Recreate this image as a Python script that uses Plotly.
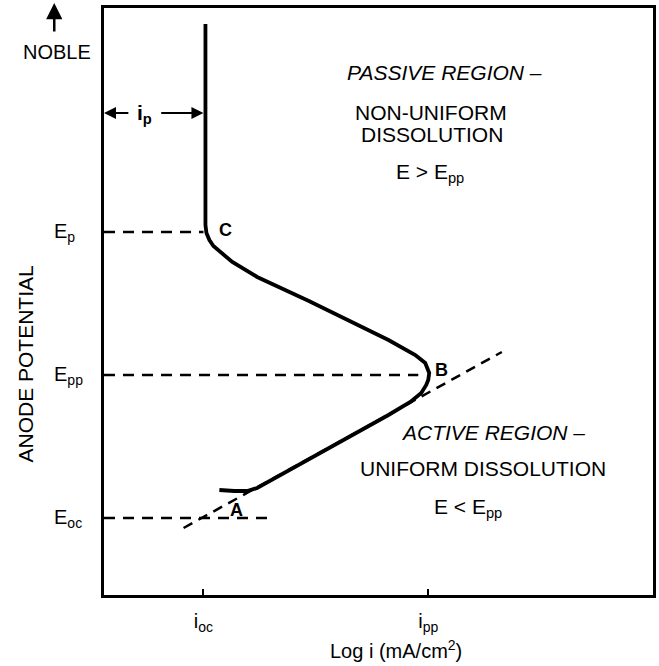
import plotly.graph_objects as go

# Schematic units (x: log i scale, y: potential scale), arbitrary
X_RANGE = [0, 552]
Y_RANGE = [0, 587]

# Polarization curve (anodic)
curve_x = [102, 102, 103, 106, 110, 116, 129, 154, 206, 286, 313, 323, 327, 326, 324, 319,
           308, 286, 219, 154, 144, 131, 116]
curve_y = [571, 370, 362, 355, 349, 344, 333, 318, 294, 255, 240, 232, 222, 215, 210, 202,
           193, 180, 143, 107, 104, 104, 105]

# Characteristic potentials / currents
E_p, E_pp, E_oc = 363, 220, 77
i_oc, i_pp = 100, 326
tick_vals_x = [i_oc, i_pp]
tick_text_x = ["i<sub>oc</sub>", "i<sub>pp</sub>"]
y_labels = ["E<sub>p</sub>", "E<sub>pp</sub>", "E<sub>oc</sub>"]
y_label_vals = [E_p, E_pp, E_oc]

# Dashed reference lines: (x0, x1, y)
dash_h = [(0, 100, E_p), (0, 316, E_pp), (0, 169, E_oc)]
# Tafel extrapolation
tafel_x = [80, 400]
tafel_y = [67, 243]

FONT = "Liberation Sans, Arial, Helvetica, sans-serif"

fig = go.Figure()
for x0, x1, y in dash_h:
    fig.add_trace(go.Scatter(x=[x0, x1], y=[y, y], mode="lines",
                             line=dict(color="black", width=2.5, dash="11px,8px"), hoverinfo="skip"))
fig.add_trace(go.Scatter(x=tafel_x, y=tafel_y, mode="lines",
                         line=dict(color="black", width=2.5, dash="10px,7px"), hoverinfo="skip"))
fig.add_trace(go.Scatter(x=curve_x, y=curve_y, mode="lines",
                         line=dict(color="black", width=3.8), hoverinfo="skip"))

ann = []
# point labels
for txt, x, y in [("A", 133, 85), ("B", 339, 225), ("C", 122, 365)]:
    ann.append(dict(x=x, y=y, text=f"<b>{txt}</b>", showarrow=False,
                    font=dict(size=18, family=FONT, color="black")))
# region texts
region = [("<i>PASSIVE REGION –</i>", 342, 523), ("NON-UNIFORM", 329, 483),
          ("DISSOLUTION", 330, 461), ("E > E<sub>pp</sub>", 328, 422),
          ("<i>ACTIVE REGION –</i>", 391, 163), ("UNIFORM DISSOLUTION", 381, 127),
          ("E < E<sub>pp</sub>", 366, 87)]
for txt, x, y in region:
    ann.append(dict(x=x, y=y, text=txt, showarrow=False,
                    font=dict(size=21, family=FONT, color="black")))
# i_p dimension arrows
ann.append(dict(x=0, y=482, ax=26, ay=482, axref="x", ayref="y", text="", showarrow=True,
                arrowhead=2, arrowsize=1.2, arrowwidth=2, arrowcolor="black"))
ann.append(dict(x=100, y=482, ax=56, ay=482, axref="x", ayref="y", text="", showarrow=True,
                arrowhead=2, arrowsize=1.2, arrowwidth=2, arrowcolor="black"))
ann.append(dict(x=41, y=481, text="<b>i<sub>p</sub></b>", showarrow=False,
                font=dict(size=21, family=FONT, color="black")))
# y labels
for txt, y in zip(y_labels, y_label_vals):
    ann.append(dict(xref="paper", x=-0.0942, y=y, xanchor="left", yanchor="middle",
                    text=txt, showarrow=False, font=dict(size=20, family=FONT, color="black")))
# NOBLE + arrow
ann.append(dict(xref="paper", yref="paper", x=-0.0851, y=0.925, xanchor="center", yanchor="middle",
                text="NOBLE", showarrow=False, font=dict(size=20, family=FONT, color="black")))
ann.append(dict(xref="paper", yref="paper", x=-0.0906, y=1.0085, ax=0, ay=30, text="",
                xanchor="center", yanchor="middle",
                showarrow=True, arrowhead=2, arrowsize=1.3, arrowwidth=2.5, arrowcolor="black"))
# axis titles
ann.append(dict(xref="paper", yref="paper", x=-0.143, y=0.3935, xanchor="center", yanchor="middle",
                text="ANODE POTENTIAL", textangle=-90, showarrow=False,
                font=dict(size=21, family=FONT, color="black")))
ann.append(dict(xref="paper", yref="paper", x=0.5326, y=-0.0935, xanchor="center", yanchor="middle",
                text="Log i (mA/cm<sup>2</sup>)", showarrow=False,
                font=dict(size=20, family=FONT, color="black")))

fig.update_layout(
    width=659, height=666,
    margin=dict(l=104, r=3, t=8, b=71),
    paper_bgcolor="white", plot_bgcolor="white",
    showlegend=False,
    annotations=ann,
    xaxis=dict(range=X_RANGE, showgrid=False, zeroline=False, showline=True, mirror=True,
               linecolor="black", linewidth=3, tickvals=tick_vals_x, ticktext=tick_text_x,
               ticks="inside", ticklen=6, tickwidth=2, tickcolor="black",
               ticklabelstandoff=6, tickfont=dict(size=20, family=FONT, color="black")),
    yaxis=dict(range=Y_RANGE, showgrid=False, zeroline=False, showline=True, mirror=True,
               linecolor="black", linewidth=3, showticklabels=False, ticks=""),
)

fig.write_html("out.html")
